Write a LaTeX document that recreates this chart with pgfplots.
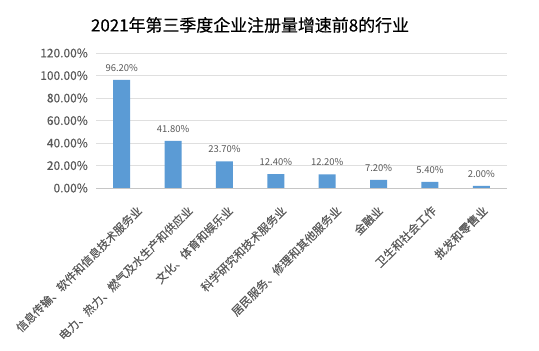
\documentclass[border=0pt]{standalone}
\usepackage{fontspec}
\setmainfont{Noto Sans CJK SC}
\newfontfamily\boldish{Noto Sans CJK SC}[FakeBold=0.4]
\newfontfamily\semi{Noto Sans CJK SC}[FakeBold=0.2]
\usepackage{pgfplots}
\pgfplotsset{compat=1.18}
\definecolor{barblue}{HTML}{5B9BD5}
\definecolor{txt}{HTML}{595959}
\begin{document}
\begin{tikzpicture}
\useasboundingbox (0,0) rectangle (539bp,351bp);
\begin{axis}[
  at={(96bp,163bp)}, anchor=south west,
  scale only axis, width=411bp, height=135bp,
  ymin=0, ymax=120, ytick={0,20,...,120},
  xmin=-0.5, xmax=7.5,
  ybar, bar width=17bp,
  axis x line*=bottom, axis y line*=left,
  y axis line style={draw=none},
  x axis line style={color=gray!45, line width=0.8pt},
  tick style={draw=none},
  ymajorgrids, grid style={color=gray!25, line width=0.8pt},
  /pgf/number format/assume math mode=true,
  yticklabel={\pgfmathprintnumber[fixed,fixed zerofill,precision=2]{\tick}\%},
  yticklabel style={font=\semi\fontsize{12}{14}\selectfont, text=txt, inner sep=0pt, xshift=-8bp},
  xtick={0.35,1.34,2.12,3.16,4.23,5.04,6.08,7.08},
  xticklabels={信息传输、软件和信息技术服务业,电力、热力、燃气及水生产和供应业,文化、体育和娱乐业,科学研究和技术服务业,居民服务、修理和其他服务业,金融业,卫生和社会工作,批发和零售业},
  xticklabel style={rotate=45, anchor=east, inner sep=0pt, font=\semi\fontsize{11.5}{13}\selectfont, text=txt},
  xticklabel shift=16bp,
  nodes near coords={\pgfmathprintnumber[fixed,fixed zerofill,precision=2]{\pgfplotspointmeta}\%},
  nodes near coords style={font=\fontsize{9.5}{11}\selectfont, text=txt, yshift=5bp},
]
\addplot[fill=barblue, draw=none] coordinates {(0,96.2) (1,41.8) (2,23.7) (3,12.4) (4,12.2) (5,7.2) (6,5.4) (7,2.0)};
\end{axis}
\node[font=\boldish\fontsize{17}{20}\selectfont, text=black] at (250bp,326bp) {2021年第三季度企业注册量增速前8的行业};
\end{tikzpicture}
\end{document}
